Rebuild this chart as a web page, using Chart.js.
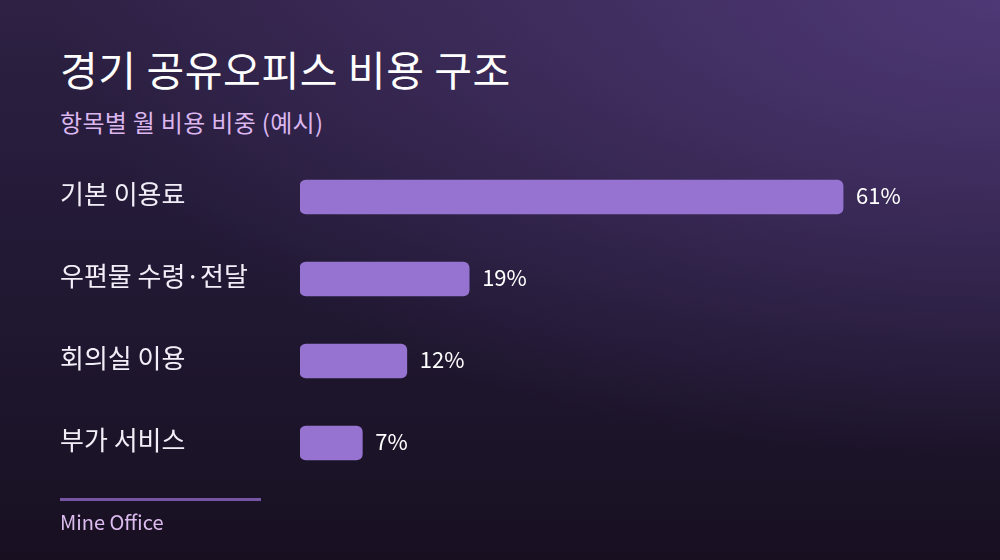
<!DOCTYPE html>
<html>
<head>
<meta charset="utf-8">
<script src="https://cdn.jsdelivr.net/npm/chart.js@4"></script>
<style>
  html, body { margin: 0; padding: 0; }
  body {
    width: 1000px; height: 560px; overflow: hidden; position: relative;
    font-family: "Noto Sans CJK KR", "Noto Sans", sans-serif;
    background:
      radial-gradient(ellipse 950px 460px at 1000px 0px, rgba(84,60,126,0.85), rgba(84,60,126,0) 100%),
      linear-gradient(180deg, #2e2144 0%, #221935 45%, #181021 100%);
  }
  #title { position: absolute; left: 60px; top: 38px; color: #ffffff; font-size: 41px; font-weight: 400; letter-spacing: 0.6px; }
  #subtitle { position: absolute; left: 60px; top: 104px; color: #dbb6ef; font-size: 24px; letter-spacing: 0.3px; }
  #rule { position: absolute; left: 60px; top: 498px; width: 201px; height: 3px; background: #7656a4; }
  #source { position: absolute; left: 60px; top: 507px; color: #dcbcef; font-size: 20px; }
  #wrap { position: absolute; left: 0; top: 0; width: 1000px; height: 560px; }
</style>
</head>
<body>
<div id="title">경기 공유오피스 비용 구조</div>
<div id="subtitle">항목별 월 비용 비중 (예시)</div>
<div id="wrap"><canvas id="myChart"></canvas></div>
<div id="rule"></div>
<div id="source">Mine Office</div>
<script>
const categories = ['기본 이용료', '우편물 수령·전달', '회의실 이용', '부가 서비스']
const shares = [61, 19, 12, 7]
const valueLabels = ['61%', '19%', '12%', '7%']

const ctx = document.getElementById('myChart').getContext('2d')

// value text right of each bar
const valueText = {
  id: 'valueText',
  afterDatasetsDraw(chart) {
    const c = chart.ctx
    const meta = chart.getDatasetMeta(0)
    c.save()
    c.fillStyle = '#ffffff'
    c.font = '22px "Noto Sans CJK KR", "Noto Sans", sans-serif'
    c.textAlign = 'left'
    c.textBaseline = 'middle'
    meta.data.forEach((bar, i) => {
      c.fillText(valueLabels[i], bar.x + 13, bar.y - 1)
    })
    c.restore()
  }
}

const config = {
  type: 'bar',
  data: {
    labels: categories,
    datasets: [{
      data: shares,
      backgroundColor: '#9673d0',
      borderRadius: 6,
      borderSkipped: false,
      barThickness: 34,
    }]
  },
  options: {
    indexAxis: 'y',
    responsive: false,
    animation: false,
    layout: { padding: { left: 60, right: 59, top: 156, bottom: 76 } },
    plugins: { legend: { display: false }, tooltip: { enabled: false } },
    scales: {
      x: { display: false, min: 0, max: 72 },
      y: {
        grid: { display: false, drawTicks: false },
        border: { display: false },
        afterFit(axis) { axis.width = 240 },
        ticks: {
          crossAlign: 'far',
          color: '#f2eef8',
          padding: 0,
          labelOffset: -3,
          font: { family: '"Noto Sans CJK KR", "Noto Sans", sans-serif', size: 26 },
        }
      }
    }
  },
  plugins: [valueText]
}

const canvas = document.getElementById('myChart')
canvas.width = 1000
canvas.height = 560
canvas.style.width = '1000px'
canvas.style.height = '560px'
const myChart = new Chart(ctx, config)
</script>
</body>
</html>
